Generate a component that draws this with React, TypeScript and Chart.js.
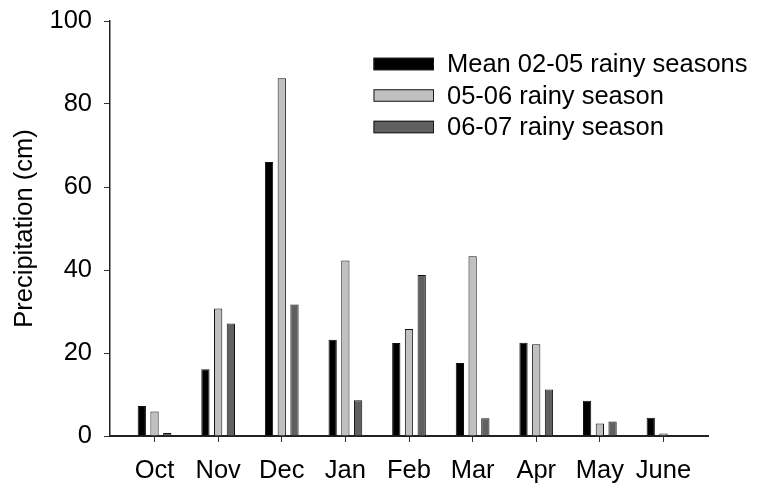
import { useEffect, useRef } from "react";
import { Chart, registerables } from "chart.js";

Chart.register(...registerables);

// Monthly precipitation (cm) over the rainy season
const MONTHS = ["Oct", "Nov", "Dec", "Jan", "Feb", "Mar", "Apr", "May", "June"];
const MEAN_02_05 = [7.2, 16.1, 66.0, 23.2, 22.4, 17.6, 22.5, 8.5, 4.4];
const SEASON_05_06 = [5.9, 30.7, 86.2, 42.3, 25.8, 43.3, 22.1, 3.0, 0.6];
const SEASON_06_07 = [0.7, 27.1, 31.7, 8.6, 38.8, 4.3, 11.2, 3.5, 0];
const SERIES_LABELS = ["Mean 02-05 rainy seasons", "05-06 rainy season", "06-07 rainy season"];
const SERIES_COLORS = ["#000000", "#c0c0c0", "#606060"];
const Y_TICKS = [0, 20, 40, 60, 80, 100];

const FONT = "'Liberation Sans', Arial, Helvetica, sans-serif";
const FONT_SIZE = 25.5;

// Legend drawn inside the plot area, upper right
const insideLegend = {
  id: "insideLegend",
  afterDatasetsDraw(chart: any) {
    const { ctx, chartArea } = chart;
    const boxX = chartArea.left + 263.5;
    const boxW = 60.5;
    const boxH = 12.5;
    const firstY = chartArea.top + 43;
    const rowGap = 31.5;
    ctx.save();
    ctx.font = `${FONT_SIZE}px ${FONT}`;
    ctx.textBaseline = "middle";
    ctx.textAlign = "left";
    chart.data.datasets.forEach((ds: any, i: number) => {
      const cy = firstY + i * rowGap;
      ctx.fillStyle = ds.backgroundColor;
      ctx.fillRect(boxX, cy - boxH / 2, boxW, boxH);
      ctx.strokeStyle = "#1a1a1a";
      ctx.lineWidth = 1;
      ctx.strokeRect(boxX + 0.5, cy - boxH / 2 + 0.5, boxW - 1, boxH - 1);
      ctx.fillStyle = "#000";
      ctx.fillText(ds.label, boxX + boxW + 13, cy + 1);
    });
    ctx.restore();
  },
};

export default function App() {
  const canvasRef = useRef<HTMLCanvasElement | null>(null);

  useEffect(() => {
    const canvas = canvasRef.current;
    if (!canvas) return;
    const series = [MEAN_02_05, SEASON_05_06, SEASON_06_07];
    const chart = new Chart(canvas, {
      type: "bar",
      data: {
        datasets: series.map((vals, s) => ({
          label: SERIES_LABELS[s],
          data: vals.map((v, i) => ({ x: i, y: v })),
          backgroundColor: SERIES_COLORS[s],
          borderColor: "#111111",
          borderWidth: 1,
          categoryPercentage: 0.6,
          barPercentage: 0.65,
        })),
      },
      options: {
        responsive: false,
        animation: false,
        devicePixelRatio: 1,
        layout: { padding: { top: 21, right: 55, left: 0, bottom: 0 } },
        plugins: {
          legend: { display: false },
          tooltip: { enabled: false },
        },
        scales: {
          x: {
            type: "linear",
            min: -0.7,
            max: 8.7,
            offset: false,
            afterFit: (scale: any) => {
              scale.height = 53;
              scale.paddingLeft = 0;
              scale.paddingRight = 0;
            },
            afterBuildTicks: (scale: any) => {
              scale.ticks = MONTHS.map((_, i) => ({ value: i }));
            },
            ticks: {
              autoSkip: false,
              maxRotation: 0,
              color: "#000",
              padding: 14,
              font: { family: FONT, size: FONT_SIZE },
              callback: (value: any) => MONTHS[Number(value)] ?? "",
            },
            grid: {
              display: true,
              offset: false,
              drawOnChartArea: false,
              drawTicks: true,
              tickLength: 6,
              color: "#333",
              lineWidth: 1,
            },
            border: { display: true, color: "#222", width: 2 },
          },
          y: {
            type: "linear",
            min: 0,
            max: 100,
            afterFit: (scale: any) => {
              scale.width = 110;
              scale.paddingTop = 0;
              scale.paddingBottom = 0;
            },
            afterBuildTicks: (scale: any) => {
              scale.ticks = Y_TICKS.map((v) => ({ value: v }));
            },
            ticks: {
              color: "#000",
              padding: 12,
              font: { family: FONT, size: FONT_SIZE },
            },
            grid: {
              display: true,
              drawOnChartArea: false,
              drawTicks: true,
              tickLength: 6,
              color: "#333",
              lineWidth: 1,
            },
            border: { display: true, color: "#222", width: 1.5 },
            title: {
              display: true,
              text: "Precipitation (cm)",
              color: "#000",
              font: { family: FONT, size: FONT_SIZE },
              padding: { top: 10, bottom: 0 },
            },
          },
        },
      },
      plugins: [insideLegend],
    });
    return () => chart.destroy();
  }, []);

  return (
    <div style={{ position: "fixed", left: 0, top: 0, width: 763, height: 489, background: "#fff" }}>
      <canvas ref={canvasRef} width={763} height={489} style={{ display: "block" }} />
    </div>
  );
}
